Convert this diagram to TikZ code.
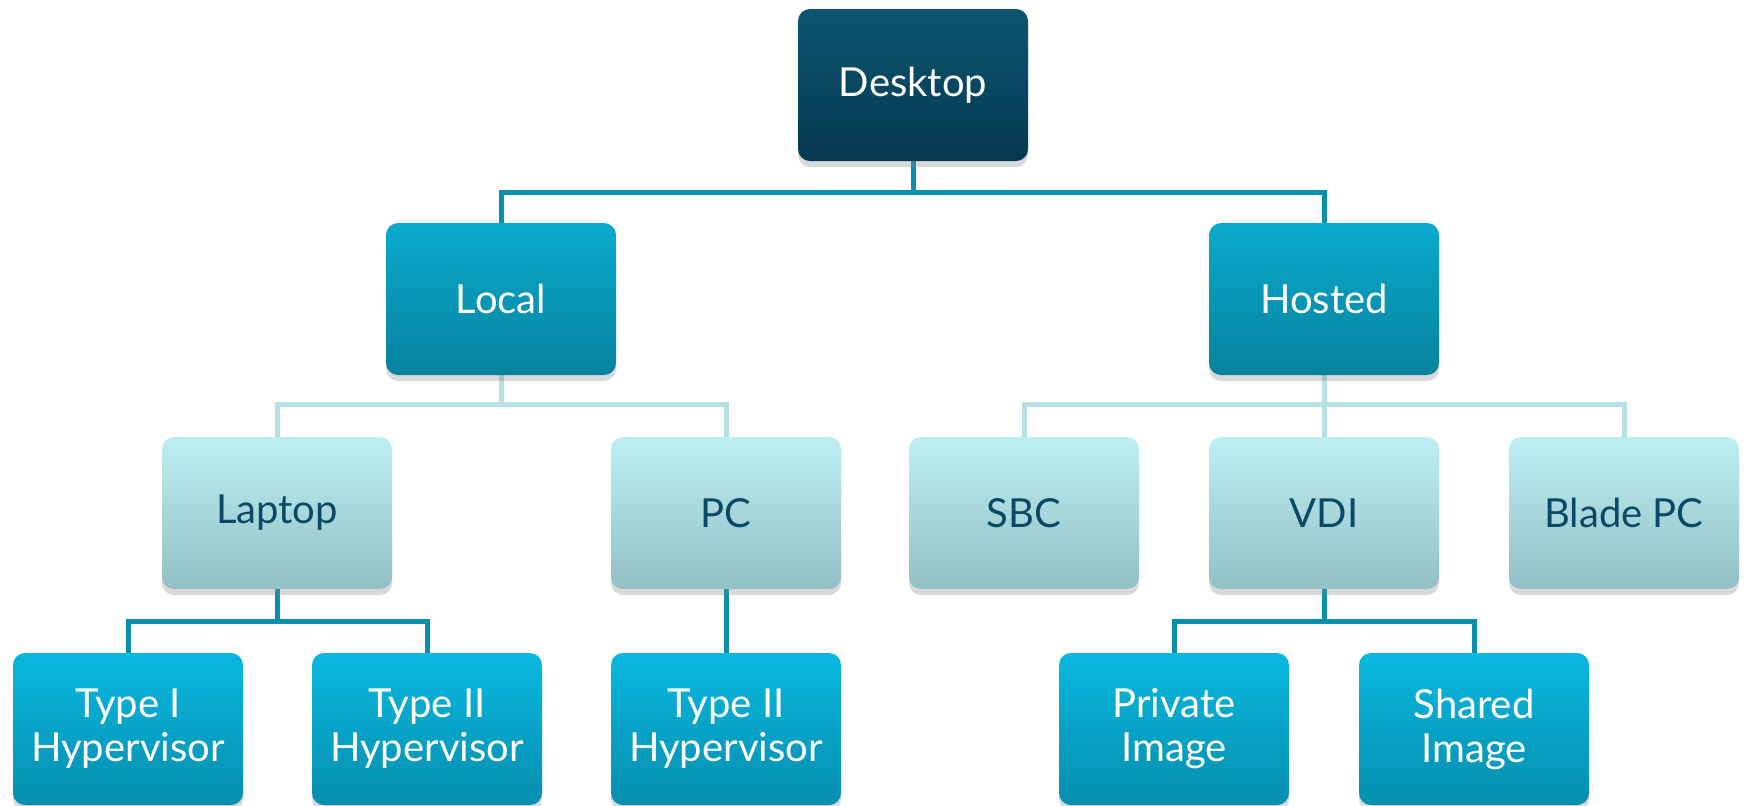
\documentclass[tikz,border=0pt]{standalone}
\usepackage{fontspec}
\setmainfont{Lato}
\usetikzlibrary{shadows,backgrounds}
\definecolor{dkTop}{HTML}{0C5572}
\definecolor{dkBot}{HTML}{053850}
\definecolor{mdTop}{HTML}{0AAACD}
\definecolor{mdBot}{HTML}{07829E}
\definecolor{btTop}{HTML}{08B8DF}
\definecolor{btBot}{HTML}{078EAE}
\definecolor{ltTop}{HTML}{BDEFF2}
\definecolor{ltBot}{HTML}{92C0C4}
\definecolor{ltText}{HTML}{0B4A66}
\definecolor{connDark}{HTML}{0A90AC}
\definecolor{connLight}{HTML}{B5E0E4}
\tikzset{
  box/.style={rounded corners=6pt, minimum width=115pt, minimum height=76pt,
    align=center, font=\fontsize{20}{22}\selectfont, inner sep=0pt,
    drop shadow={opacity=0.3, shadow xshift=0pt, shadow yshift=-3pt}},
  dkbox/.style={box, top color=dkTop, bottom color=dkBot, text=white},
  mdbox/.style={box, top color=mdTop, bottom color=mdBot, text=white},
  btbox/.style={box, top color=btTop, bottom color=btBot, text=white},
  ltbox/.style={box, top color=ltTop, bottom color=ltBot, text=ltText},
  cdark/.style={draw=connDark, line width=2.5pt},
  clight/.style={draw=connLight, line width=2.5pt},
}
\begin{document}
\begin{tikzpicture}[x=0.5pt,y=-0.5pt]
\useasboundingbox (0,0) rectangle (1748,805);
\node[dkbox] (desk) at (913,85) {Desktop};
\node[mdbox] (local) at (501,299) {Local};
\node[mdbox] (hosted) at (1324,299) {Hosted};
\node[ltbox] (laptop) at (277,513) {Laptop};
\node[ltbox] (pc) at (726,513) {PC};
\node[ltbox] (sbc) at (1024,513) {SBC};
\node[ltbox] (vdi) at (1324,513) {VDI};
\node[ltbox] (blade) at (1624,513) {Blade PC};
\node[btbox] (t1) at (128,729) {Type I\\Hypervisor};
\node[btbox] (t2a) at (427,729) {Type II\\Hypervisor};
\node[btbox] (t2b) at (726,729) {Type II\\Hypervisor};
\node[btbox] (priv) at (1174,729) {Private\\Image};
\node[btbox] (shar) at (1474,729) {Shared\\Image};
\coordinate (b1) at (0,192);
\coordinate (b2) at (0,404);
\coordinate (b3) at (0,621);
\begin{scope}[on background layer]
\draw[cdark] (desk.south) -- (desk.south |- b1);
\draw[cdark] (local.north) |- (hosted.north |- b1) -- (hosted.north);
\draw[clight] (local.south) -- (local.south |- b2);
\draw[clight] (laptop.north) |- (pc.north |- b2) -- (pc.north);
\draw[clight] (hosted.south) -- (vdi.north);
\draw[clight] (sbc.north) |- (blade.north |- b2) -- (blade.north);
\draw[cdark] (laptop.south) -- (laptop.south |- b3);
\draw[cdark] (t1.north) |- (t2a.north |- b3) -- (t2a.north);
\draw[cdark] (pc.south) -- (t2b.north);
\draw[cdark] (vdi.south) -- (vdi.south |- b3);
\draw[cdark] (priv.north) |- (shar.north |- b3) -- (shar.north);
\end{scope}
\end{tikzpicture}
\end{document}
